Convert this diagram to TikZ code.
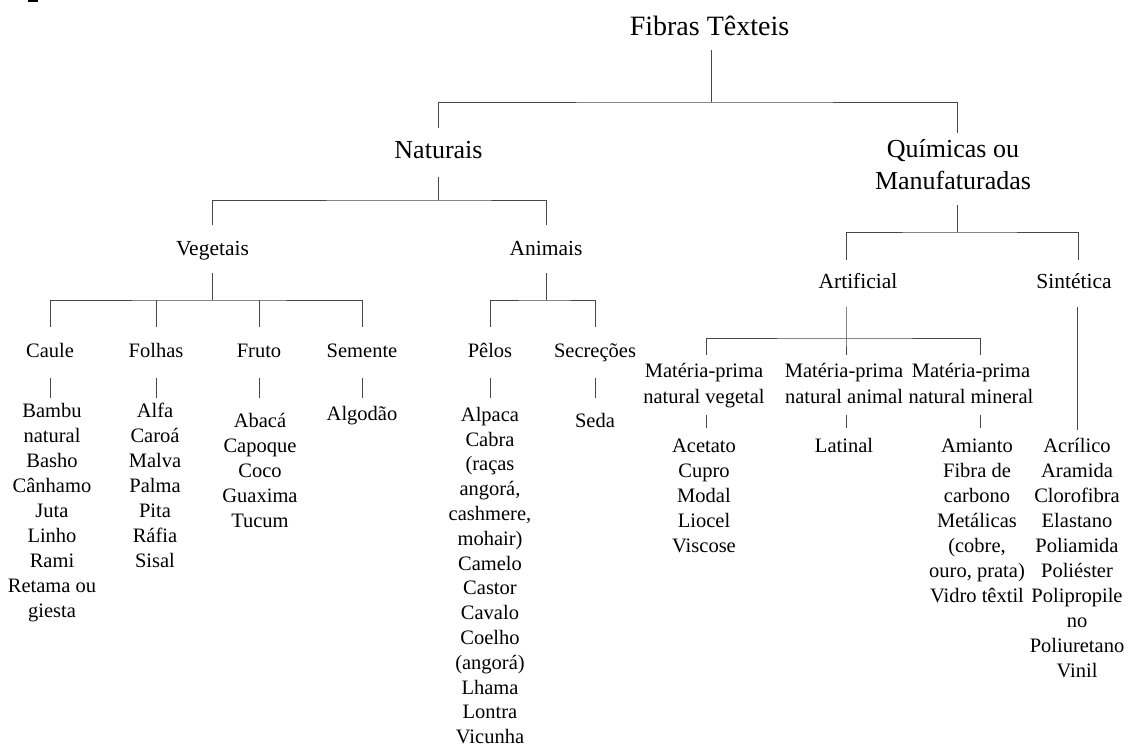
\documentclass[tikz,border=0pt]{standalone}
\usepackage{fontspec}
\setmainfont{Liberation Serif}
\newcommand{\fst}{\rule{0pt}{16pt}}
\tikzset{
  ln/.style={draw=black!72, line width=1pt},
  bse/.style={anchor=base, inner sep=0pt, text=black},
  t0/.style={bse, font=\fontsize{28}{34}\selectfont},
  t1/.style={bse, font=\fontsize{26}{32}\selectfont},
  t2/.style={bse, font=\fontsize{21.5}{26}\selectfont},
  t3/.style={bse, font=\fontsize{20.5}{25}\selectfont},
  lst/.style={anchor=north, inner sep=0pt, align=center, text=black, font=\fontsize{20.5}{25}\selectfont},
}
\begin{document}
\begin{tikzpicture}[x=1pt,y=-1pt]
\useasboundingbox (0,0) rectangle (1133,747);
\fill[black] (28,0) rectangle (38,2);

% ---- nodes ----
\node[t0] (fibras) at (709.5,35) {Fibras Têxteis};
\node[t1] (nat) at (438.5,158) {Naturais};
\node[lst, font=\fontsize{26}{32}\selectfont] (qui) at (953,136) {\rule{0pt}{21pt}Químicas ou\\Manufaturadas};

\node[t2] (veg) at (212.5,255) {Vegetais};
\node[t2] (ani) at (546,255) {Animais};
\node[t2] (art) at (858,288) {Artificial};
\node[t2] (sin) at (1074,288) {Sintética};

\node[t3] (caule) at (50,357) {Caule};
\node[t3] (folhas) at (156,357) {Folhas};
\node[t3] (fruto) at (259,357) {Fruto};
\node[t3] (semente) at (362,357) {Semente};
\node[t3] (pelos) at (490,357) {Pêlos};
\node[t3] (secr) at (595,357) {Secreções};

\node[lst, font=\fontsize{20.5}{26.5}\selectfont] (mpv) at (704,361) {\fst Matéria-prima\\natural vegetal};
\node[lst, font=\fontsize{20.5}{26.5}\selectfont] (mpa) at (844,361) {\fst Matéria-prima\\natural animal};
\node[lst, font=\fontsize{20.5}{26.5}\selectfont] (mpm) at (971,361) {\fst Matéria-prima\\natural mineral};

\node[lst] (lcaule) at (52,401) {\fst Bambu\\natural\\Basho\\Cânhamo\\Juta\\Linho\\Rami\\Retama ou\\giesta};
\node[lst] (lfolhas) at (155,401) {\fst Alfa\\Caroá\\Malva\\Palma\\Pita\\Ráfia\\Sisal};
\node[lst] (lfruto) at (260,411) {\fst Abacá\\Capoque\\Coco\\Guaxima\\Tucum};
\node[lst] (lsemente) at (362,404) {\fst Algodão};
\node[lst, font=\fontsize{20.5}{24.8}\selectfont] (lpelos) at (490,405) {\fst Alpaca\\Cabra\\(raças\\angorá,\\cashmere,\\mohair)\\Camelo\\Castor\\Cavalo\\Coelho\\(angorá)\\Lhama\\Lontra\\Vicunha};
\node[lst] (lsecr) at (595,411) {\fst Seda};
\node[lst] (lmpv) at (704,436) {\fst Acetato\\Cupro\\Modal\\Liocel\\Viscose};
\node[lst] (lmpa) at (844,436) {\fst Latinal};
\node[lst] (lmpm) at (977,436) {\fst Amianto\\Fibra de\\carbono\\Metálicas\\(cobre,\\ouro, prata)\\Vidro têxtil};
\node[lst] (lsin) at (1077,436) {\fst Acrílico\\Aramida\\Clorofibra\\Elastano\\Poliamida\\Poliéster\\Polipropile\\no\\Poliuretano\\Vinil};

% ---- connector coordinates ----
\coordinate (fibras-out) at (711,50);
\coordinate (j0) at (711,102);
\coordinate (nat-in) at (438,128);
\coordinate (qui-in) at (957,133);
\coordinate (nat-out) at (438,177);
\coordinate (j1) at (438,200);
\coordinate (veg-in) at (212,225);
\coordinate (ani-in) at (546,225);
\coordinate (veg-out) at (212,273);
\coordinate (j2) at (212,300);
\coordinate (caule-in) at (50,327);
\coordinate (folhas-in) at (156,327);
\coordinate (fruto-in) at (259,327);
\coordinate (semente-in) at (362,327);
\coordinate (ani-out) at (546,273);
\coordinate (j3) at (546,300);
\coordinate (pelos-in) at (490,327);
\coordinate (secr-in) at (595,327);
\coordinate (qui-out) at (957,205);
\coordinate (j4) at (957,232);
\coordinate (art-in) at (846,260);
\coordinate (sin-in) at (1078,260);
\coordinate (art-out) at (846,307);
\coordinate (j5) at (846,338);
\coordinate (mpv-in) at (706,355);
\coordinate (mpa-in) at (846,355);
\coordinate (mpm-in) at (980,355);
\coordinate (sin-out) at (1077,307);
\coordinate (lsin-in) at (1077,430);

% ---- connectors ----
\draw[ln] (fibras-out) -- (j0);
\draw[ln] (nat-in) |- (j0) -| (qui-in);
\draw[ln] (nat-out) -- (j1);
\draw[ln] (veg-in) |- (j1) -| (ani-in);
\draw[ln] (veg-out) -- (j2);
\draw[ln] (caule-in) |- (j2) -| (semente-in);
\draw[ln] (folhas-in) -- (folhas-in |- j2);
\draw[ln] (fruto-in) -- (fruto-in |- j2);
\draw[ln] (ani-out) -- (j3);
\draw[ln] (pelos-in) |- (j3) -| (secr-in);
\foreach \n/\x in {caule/50, folhas/156, fruto/259, semente/362, pelos/490, secr/595}{
  \coordinate (\n-a) at (\x,378);
  \coordinate (\n-b) at (\x,398);
  \draw[ln] (\n-a) -- (\n-b);
}
\draw[ln] (qui-out) -- (j4);
\draw[ln] (art-in) |- (j4) -| (sin-in);
\draw[ln] (art-out) -- (j5) -- (mpa-in);
\draw[ln] (mpv-in) |- (j5) -| (mpm-in);
\draw[ln] (sin-out) -- (lsin-in);
\foreach \n/\x in {mpv/706, mpa/846, mpm/980}{
  \coordinate (\n-a) at (\x,415);
  \coordinate (\n-b) at (\x,428);
  \draw[ln] (\n-a) -- (\n-b);
}
\end{tikzpicture}
\end{document}
